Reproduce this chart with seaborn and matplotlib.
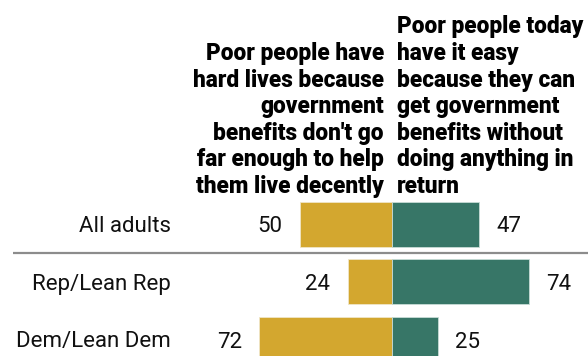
import matplotlib
matplotlib.use("Agg")
import matplotlib.pyplot as plt
import seaborn as sns
import pandas as pd

categories = ["All adults", "Rep/Lean Rep", "Dem/Lean Dem"]
hard_lives = [50, 24, 72]
have_it_easy = [47, 74, 25]
header_left = ("Poor people have\nhard lives because\ngovernment\n"
               "benefits don't go\nfar enough to help\nthem live decently")
header_right = ("Poor people today\nhave it easy\nbecause they can\n"
                "get government\nbenefits without\ndoing anything in\nreturn")

GOLD = "#D3A72F"
TEAL = "#377667"

sns.set_theme(style="white")
plt.rcParams["font.family"] = ["Roboto", "DejaVu Sans"]

W, H = 588, 356
fig = plt.figure(figsize=(W / 100, H / 100), dpi=100)
ax = fig.add_axes([0, 0, 1, 1])

df = pd.DataFrame({"cat": categories,
                   "left": [-v for v in hard_lives],
                   "right": have_it_easy})

sns.barplot(data=df, y="cat", x="left", color=GOLD, orient="h", width=0.78,
            saturation=1, edgecolor="#f0e6c8", linewidth=0.6, ax=ax)
sns.barplot(data=df, y="cat", x="right", color=TEAL, orient="h", width=0.78,
            saturation=1, edgecolor="#c8dcd6", linewidth=0.6, ax=ax)

cx, scale = 392, 1.845
ax.set_xlim(-cx / scale, (W - cx) / scale)
ax.set_ylim((H - 224.2) / 57.65, -224.2 / 57.65)
ax.axis("off")

for i, (l, r) in enumerate(zip(hard_lives, have_it_easy)):
    ax.annotate(f"{l}", xy=(-l, i), xytext=(-12.5, 0), textcoords="offset points",
                ha="right", va="center_baseline", fontsize=16, color="#111111")
    ax.annotate(f"{r}", xy=(r, i), xytext=(12.5, 0), textcoords="offset points",
                ha="left", va="center_baseline", fontsize=16, color="#111111")
    ax.text(171 / W, i, categories[i], transform=ax.get_yaxis_transform(),
            ha="right", va="center_baseline", fontsize=16, color="#111111")

# separator line between total and partisan groups
ax.plot([13 / W, 1], [0.5, 0.5], transform=ax.get_yaxis_transform(),
        color="#8c8c8c", lw=1.6, solid_capstyle="butt", clip_on=False)

fig.text(384 / W, 1 - 193 / H, header_left, ha="right", va="baseline",
         fontsize=16.3, fontweight="black", linespacing=1.2, color="#000000")
fig.text(397 / W, 1 - 193 / H, header_right, ha="left", va="baseline",
         fontsize=16.3, fontweight="black", linespacing=1.2, color="#000000")

fig.savefig("out.png", dpi=100)
